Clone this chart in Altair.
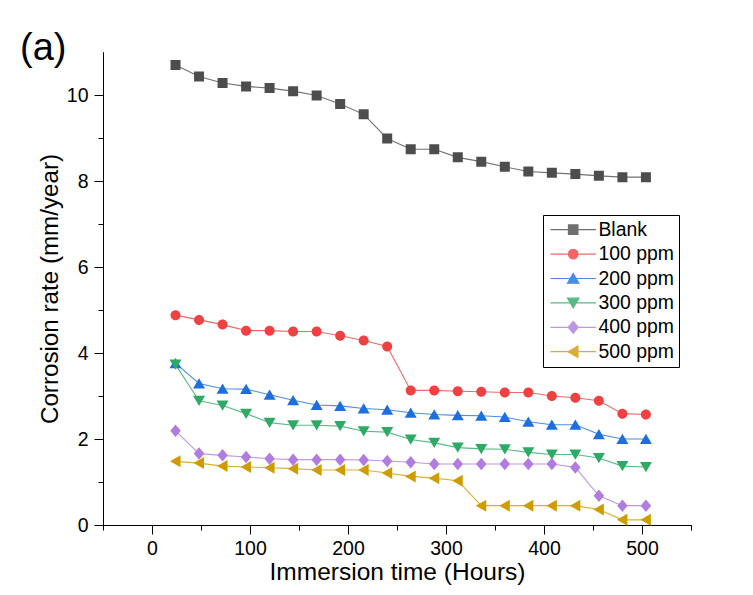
import altair as alt
import pandas as pd

hours = [24, 48, 72, 96, 120, 144, 168, 192, 216, 240, 264, 288, 312, 336, 360, 384, 408, 432, 456, 480, 504]
series = ["Blank", "100 ppm", "200 ppm", "300 ppm", "400 ppm", "500 ppm"]
blank = [10.70, 10.43, 10.28, 10.20, 10.16, 10.09, 9.99, 9.79, 9.55, 8.99, 8.74, 8.74, 8.55, 8.45, 8.33, 8.22, 8.19, 8.16, 8.12, 8.09, 8.09]
p100 = [4.88, 4.77, 4.66, 4.52, 4.52, 4.50, 4.50, 4.40, 4.29, 4.15, 3.13, 3.13, 3.11, 3.10, 3.08, 3.08, 3.00, 2.96, 2.89, 2.59, 2.57]
p200 = [3.76, 3.29, 3.17, 3.16, 3.03, 2.90, 2.79, 2.77, 2.71, 2.68, 2.61, 2.57, 2.55, 2.54, 2.51, 2.40, 2.33, 2.33, 2.11, 2.00, 2.00]
p300 = [3.73, 2.89, 2.78, 2.59, 2.38, 2.32, 2.32, 2.30, 2.18, 2.16, 1.99, 1.91, 1.80, 1.77, 1.76, 1.69, 1.64, 1.64, 1.56, 1.37, 1.35]
p400 = [2.19, 1.66, 1.62, 1.58, 1.54, 1.52, 1.52, 1.52, 1.51, 1.49, 1.46, 1.42, 1.42, 1.42, 1.42, 1.42, 1.42, 1.34, 0.68, 0.45, 0.45]
p500 = [1.48, 1.44, 1.37, 1.35, 1.33, 1.31, 1.28, 1.28, 1.28, 1.21, 1.13, 1.09, 1.03, 0.45, 0.45, 0.45, 0.45, 0.45, 0.36, 0.12, 0.12]
x_major = [0, 100, 200, 300, 400, 500]
x_minor = [-50, 50, 150, 250, 350, 450, 550]
y_major = [0, 2, 4, 6, 8, 10]
y_minor = [1, 3, 5, 7, 9]

colors = ["#4d4d4d", "#ef4141", "#1d6fe0", "#2eaa66", "#b07ce0", "#cf9c00"]
# custom symbols: a horizontal line segment (visible only when stroked, i.e. in the legend) + filled marker
seg = "M-4.8,0H4.8"
shapes = [
    seg + "M-1,-1H1V1H-1Z",
    seg + "M1,0A1,1,0,1,1,-1,0A1,1,0,1,1,1,0Z",
    seg + "M0,-1.05L1.2,1H-1.2Z",
    seg + "M0,1.05L1.2,-1H-1.2Z",
    seg + "M0,-1.25L1.05,0L0,1.25L-1.05,0Z",
    seg + "M-1.1,0L1,-1.2L1,1.2Z",
]

rows = []
for name, vals in zip(series, [blank, p100, p200, p300, p400, p500]):
    for h, v in zip(hours, vals):
        rows.append({"series": name, "hours": h, "rate": v})
df = pd.DataFrame(rows)

font = "Liberation Sans"

legend = alt.Legend(
    title=None, orient="none", legendX=440, legendY=163,
    padding=5, strokeColor="black", fillColor="white",
    labelFont=font, labelFontSize=19.4, labelColor="black",
    symbolSize=90, symbolOffset=15.5, labelOffset=15.5, rowPadding=3.4,
    symbolStrokeWidth=1.2,
)
color = alt.Color("series:N", scale=alt.Scale(domain=series, range=colors), legend=legend)
stroke = alt.Stroke("series:N", scale=alt.Scale(domain=series, range=colors), legend=legend)
shape = alt.Shape("series:N", scale=alt.Scale(domain=series, range=shapes), legend=legend)

xs = alt.Scale(domain=[-50, 550], nice=False, zero=False)
ys = alt.Scale(domain=[0, 11], nice=False)

lines = alt.Chart(df).mark_line(strokeWidth=1.1, opacity=0.8).encode(
    x=alt.X("hours:Q", scale=xs, axis=alt.Axis(
        values=x_major, orient="bottom", tickSize=9, labelFontSize=19.5, labelPadding=5,
        title="Immersion time (Hours)", titleFontSize=24.5, titlePadding=3)),
    y=alt.Y("rate:Q", scale=ys, axis=alt.Axis(
        values=y_major, orient="left", tickSize=9, labelFontSize=19.5, labelPadding=6,
        title="Corrosion rate (mm/year)", titleFontSize=24.2, titlePadding=4)),
    color=color,
    detail="series:N",
)

points = alt.Chart(df).mark_point(filled=True, size=100, strokeWidth=0, opacity=1).encode(
    x=alt.X("hours:Q", scale=xs, axis=alt.Axis(
        values=x_minor, orient="bottom", tickSize=5, labels=False, title=None)),
    y=alt.Y("rate:Q", scale=ys, axis=alt.Axis(
        values=y_minor, orient="left", tickSize=5, labels=False, title=None)),
    color=color,
    stroke=stroke,
    shape=shape,
)

chart = alt.layer(lines, points).resolve_axis(x="independent", y="independent").properties(
    width=588, height=473,
    autosize=alt.AutoSizeParams(type="none"),
    padding={"left": 95, "top": 44, "right": 54, "bottom": 62},
    background="white",
    title=alt.TitleParams("(a)", anchor="start", frame="group", fontSize=38, font=font,
                          fontWeight="normal", color="black", dx=-83, dy=16, offset=0),
).configure_view(stroke=None).configure_axis(
    grid=False, domainColor="black", tickColor="black", labelColor="black",
    titleColor="black", labelFont=font, titleFont=font, titleFontWeight="normal",
    domainWidth=1, tickWidth=1,
)

chart.save("out.html", embed_options={"renderer": "svg", "actions": False})
